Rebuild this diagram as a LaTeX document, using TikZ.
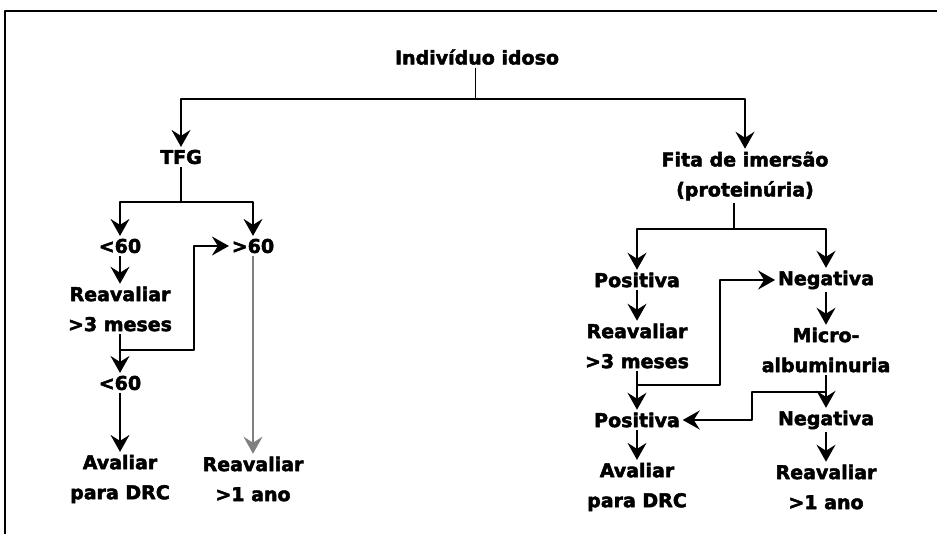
\documentclass[tikz,border=0pt]{standalone}
\usepackage{fontspec}
\setmainfont{DejaVu Sans}[BoldFeatures={FakeBold=2.5}]
\usetikzlibrary{arrows.meta}

\begin{document}
\begin{tikzpicture}[>={Stealth[length=17bp,width=19bp,inset=6bp]},line join=bevel,line width=1.8bp,
  lbl/.style={inner sep=2bp,align=center,font=\fontsize{19bp}{30bp}\selectfont\bfseries}]
%%
\useasboundingbox (0bp,0bp) rectangle (937bp,534bp);
\draw [line width=2bp] (5bp,0bp) -- (5bp,523bp) -- (937bp,523bp);
%
\node (root) at (477bp,477bp) [lbl] {Indivíduo idoso};
  \node (tfg) at (181bp,377bp) [lbl] {TFG};
  \node (fita) at (745bp,358bp) [lbl] {Fita de imersão\\(proteinúria)};
  % left branch
  \node (lt1) at (120bp,288bp) [lbl] {<60};
  \node (gt) at (253bp,288bp) [lbl] {>60};
  \node (reav1) at (120bp,225bp) [lbl] {Reavaliar\\>3 meses};
  \node (lt2) at (120bp,151bp) [lbl] {<60};
  \node (aval1) at (120bp,55bp) [lbl] {Avaliar\\para DRC};
  \node (reav2) at (253bp,55bp) [lbl] {Reavaliar\\>1 ano};
  % right branch
  \node (pos1) at (637bp,254bp) [lbl] {Positiva};
  \node (neg1) at (826bp,254bp) [lbl] {Negativa};
  \node (reav3) at (637bp,188bp) [lbl] {Reavaliar\\>3 meses};
  \node (micro) at (826bp,184bp) [lbl] {Micro-\\albuminuria};
  \node (pos2) at (637bp,114bp) [lbl] {Positiva};
  \node (neg2) at (826bp,114bp) [lbl] {Negativa};
  \node (aval2) at (637bp,47bp) [lbl] {Avaliar\\para DRC};
  \node (reav4) at (826bp,47bp) [lbl] {Reavaliar\\>1 ano};
%
\coordinate (j1) at (475bp,435bp);
  \coordinate (j2) at (181bp,332bp);
  \coordinate (j3) at (120bp,184bp);
  \coordinate (j4) at (734bp,305bp);
  \coordinate (j5) at (637bp,149bp);
  \coordinate (j6) at (826bp,142bp);
  \draw [line width=1bp] (root.south -| j1) -- (j1);
  \draw [->] (j1) -| (tfg);
  \draw [->] (j1) -| (fita);
  \draw (tfg) -- (j2);
  \draw [->] (j2) -| (lt1);
  \draw [->] (j2) -| (gt);
  \draw [->] (lt1) -- (reav1);
  \draw [->] (reav1) -- (lt2);
  \draw [->] (j3) -- ++(74bp,0bp) |- (gt);
  \draw [->] (lt2) -- (aval1);
  \draw [->,draw=gray] (gt) -- (reav2);
  \draw (fita.south -| j4) -- (j4);
  \draw [->] (j4) -| (pos1);
  \draw [->] (j4) -| (neg1);
  \draw [->] (pos1) -- (reav3);
  \draw [->] (reav3) -- (pos2);
  \draw [->] (j5) -- ++(83bp,0bp) |- (neg1);
  \draw [->] (neg1) -- (micro);
  \draw [->] (micro) -- (neg2);
  \draw [->] (j6) -- ++(-74bp,0bp) |- (pos2);
  \draw [->] (pos2) -- (aval2);
  \draw [->] (neg2) -- (reav4);
%
\end{tikzpicture}
\end{document}
